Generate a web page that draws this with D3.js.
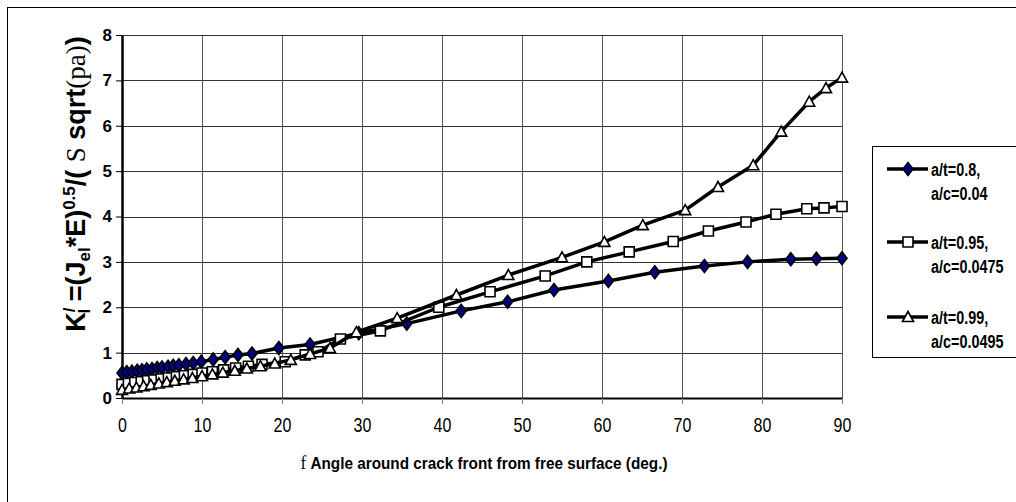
<!DOCTYPE html>
<html>
<head>
<meta charset="utf-8">
<script src="https://cdn.jsdelivr.net/npm/d3@7"></script>
<style>
  html, body { margin: 0; padding: 0; background: #fff; }
  svg { display: block; }
  text { font-family: "Liberation Sans", Arial, sans-serif; }
</style>
</head>
<body>
<svg id="chart" width="1016" height="502"></svg>
<script>
// a/t=0.8, a/c=0.04 (diamonds)
var angle1 = [0, 0.6, 1.25, 1.9, 2.5, 3.1, 3.75, 4.4, 5, 5.75, 6.4, 7.1, 8, 8.9, 9.9, 11.4, 12.9, 14.5, 16.25, 19.6, 23.5, 29.6, 35.6, 42.4, 48.2, 54, 60.8, 66.6, 72.8, 78.2, 83.6, 86.8, 90];
var k1 = [0.55, 0.57, 0.58, 0.6, 0.61, 0.63, 0.64, 0.66, 0.67, 0.69, 0.71, 0.72, 0.75, 0.77, 0.8, 0.85, 0.9, 0.95, 0.98, 1.1, 1.18, 1.43, 1.64, 1.92, 2.12, 2.38, 2.58, 2.77, 2.91, 3.0, 3.06, 3.07, 3.08];

// a/t=0.95, a/c=0.0475 (squares)
var angle2 = [0, 0.8, 1.6, 2.4, 3.2, 4, 4.9, 5.8, 6.8, 7.8, 8.9, 10, 11.3, 12.7, 14.2, 15.8, 17.5, 20.4, 22.9, 24.5, 27.3, 32.3, 39.6, 46, 52.9, 58.1, 63.4, 68.9, 73.3, 78, 81.75, 85.6, 87.75, 90];
var k2 = [0.3, 0.32, 0.34, 0.36, 0.38, 0.4, 0.42, 0.44, 0.47, 0.49, 0.52, 0.55, 0.58, 0.62, 0.66, 0.7, 0.74, 0.8, 0.95, 1.02, 1.3, 1.48, 2.0, 2.34, 2.69, 3.0, 3.22, 3.45, 3.68, 3.88, 4.05, 4.17, 4.19, 4.22];

// a/t=0.99, a/c=0.0495 (triangles)
var angle3 = [0, 0.9, 1.8, 2.7, 3.6, 4.6, 5.6, 6.6, 7.7, 8.8, 10, 11.3, 12.6, 14.1, 15.6, 17.3, 19.1, 21.1, 23.5, 26, 29.3, 34.4, 41.8, 48.3, 55, 60.3, 65.1, 70.4, 74.5, 78.9, 82.4, 85.9, 88, 90];
var k3 = [0.18, 0.21, 0.23, 0.26, 0.29, 0.32, 0.35, 0.38, 0.41, 0.44, 0.48, 0.52, 0.56, 0.6, 0.65, 0.7, 0.76, 0.84, 0.97, 1.1, 1.45, 1.76, 2.27, 2.71, 3.1, 3.44, 3.81, 4.14, 4.65, 5.13, 5.87, 6.53, 6.83, 7.06];

var xTicks = [0, 10, 20, 30, 40, 50, 60, 70, 80, 90];
var yTicks = [0, 1, 2, 3, 4, 5, 6, 7, 8];
var legendLabels = [["a/t=0.8,", "a/c=0.04"], ["a/t=0.95,", "a/c=0.0475"], ["a/t=0.99,", "a/c=0.0495"]];

(function () {
  var svg = d3.select("#chart");
  var plotL = 122, plotR = 842, plotT = 35, plotB = 398;

  var x = d3.scaleLinear().domain([0, 90]).range([plotL, plotR]);
  var y = d3.scaleLinear().domain([0, 8]).range([plotB, plotT]);

  // squeeze text horizontally to look like a narrow face
  function squeeze(sel, k) {
    sel.each(function () {
      var w = this.getComputedTextLength();
      d3.select(this).attr("textLength", w * k).attr("lengthAdjust", "spacingAndGlyphs");
    });
  }

  // outer frame
  svg.append("rect")
    .attr("x", 7.5).attr("y", 7.5)
    .attr("width", 1030).attr("height", 520)
    .attr("fill", "none").attr("stroke", "#000").attr("stroke-width", 1);

  // grid
  svg.append("g").selectAll("line")
    .data(yTicks.slice(1))
    .join("line")
    .attr("x1", plotL).attr("x2", plotR)
    .attr("y1", function (d) { return Math.round(y(d)) + 0.5; })
    .attr("y2", function (d) { return Math.round(y(d)) + 0.5; })
    .attr("stroke", "#333").attr("stroke-width", 1);

  svg.append("g").selectAll("line")
    .data(xTicks.slice(1))
    .join("line")
    .attr("x1", function (d) { return Math.round(x(d)) + 0.5; })
    .attr("x2", function (d) { return Math.round(x(d)) + 0.5; })
    .attr("y1", plotT).attr("y2", plotB)
    .attr("stroke", "#555").attr("stroke-width", 1);

  // axes
  var xAxis = d3.axisBottom(x).tickValues(xTicks).tickSize(6).tickSizeOuter(0).tickPadding(14);
  var gx = svg.append("g").attr("transform", "translate(0," + plotB + ")").call(xAxis);
  gx.select(".domain").attr("stroke", "#000").attr("stroke-width", 2);
  gx.selectAll(".tick line").attr("stroke", "#777");
  gx.selectAll(".tick text")
    .attr("font-family", "'Liberation Sans', Arial, sans-serif")
    .attr("font-size", 20).attr("fill", "#000")
    .call(squeeze, 0.8);

  var yAxis = d3.axisLeft(y).tickValues(yTicks).tickSize(6).tickSizeOuter(0).tickPadding(4);
  var gy = svg.append("g").attr("transform", "translate(" + plotL + ",0)").call(yAxis);
  gy.select(".domain").attr("stroke", "#000").attr("stroke-width", 2.5);
  gy.selectAll(".tick line").attr("stroke", "#000");
  gy.selectAll(".tick text")
    .attr("font-family", "'Liberation Sans', Arial, sans-serif")
    .attr("font-size", 17).attr("font-weight", "bold").attr("fill", "#000");

  // top border of plot
  svg.append("line").attr("x1", plotL).attr("x2", plotR).attr("y1", plotT + 0.5).attr("y2", plotT + 0.5)
    .attr("stroke", "#333");

  // markers
  var diamondPath = "M0,-6.5L5,0L0,6.5L-5,0Z";
  var squarePath = "M-5,-5H5V5H-5Z";
  var trianglePath = "M0,-5.5L5.5,4.5H-5.5Z";

  var series = [
    { xs: angle1, ys: k1, shape: diamondPath, fill: "#000080" },
    { xs: angle2, ys: k2, shape: squarePath, fill: "#fff" },
    { xs: angle3, ys: k3, shape: trianglePath, fill: "#fff" }
  ];

  var line = d3.line()
    .x(function (d) { return x(d[0]); })
    .y(function (d) { return y(d[1]); });

  series.forEach(function (s) {
    var pts = s.xs.map(function (v, i) { return [v, s.ys[i]]; });
    var g = svg.append("g");
    g.append("path")
      .datum(pts)
      .attr("d", line)
      .attr("fill", "none")
      .attr("stroke", "#000")
      .attr("stroke-width", 3.5)
      .attr("stroke-linejoin", "round");
    g.selectAll("path.m")
      .data(pts)
      .join("path")
      .attr("class", "m")
      .attr("d", s.shape)
      .attr("transform", function (d) { return "translate(" + x(d[0]) + "," + y(d[1]) + ")"; })
      .attr("fill", s.fill)
      .attr("stroke", "#000")
      .attr("stroke-width", 1.6);
  });

  // y title
  var yt = svg.append("text")
    .attr("transform", "translate(85,184) rotate(-90)")
    .attr("text-anchor", "middle")
    .attr("font-size", 27)
    .attr("font-weight", "bold")
    .attr("fill", "#000");
  yt.append("tspan").text("K");
  yt.append("tspan").attr("font-size", 17).attr("dy", -10).text("/");
  yt.append("tspan").attr("font-size", 17).attr("dy", 15).attr("dx", -6).text("I");
  yt.append("tspan").attr("dy", -5).text(" =(J");
  yt.append("tspan").attr("font-size", 17).attr("dy", 5).text("el");
  yt.append("tspan").attr("dy", -5).text("*E)");
  yt.append("tspan").attr("font-size", 17).attr("dy", -10).text("0.5");
  yt.append("tspan").attr("dy", 10).text("/( ");
  yt.append("tspan").attr("font-family", "'Liberation Serif', 'Times New Roman', serif").attr("font-weight", "normal").text("S");
  yt.append("tspan").text(" sqrt");
  yt.append("tspan").attr("font-family", "'Liberation Serif', 'Times New Roman', serif").attr("font-weight", "normal").text("(pa)");
  yt.append("tspan").text(")");

  // x title
  var xt = svg.append("text")
    .attr("x", 484).attr("y", 469)
    .attr("text-anchor", "middle")
    .attr("font-size", 17)
    .attr("fill", "#000");
  xt.append("tspan").attr("font-family", "'Liberation Serif', 'Times New Roman', serif").attr("font-size", 19).text("f ");
  xt.append("tspan").attr("font-weight", "bold").text("Angle around crack front from free surface (deg.)");
  xt.call(squeeze, 0.9);

  // legend
  var lg = svg.append("g");
  lg.append("rect")
    .attr("x", 872.5).attr("y", 146.5)
    .attr("width", 200).attr("height", 211)
    .attr("fill", "#fff").attr("stroke", "#000").attr("stroke-width", 1);

  var legendY = [169, 242, 317];
  series.forEach(function (s, i) {
    var ly = legendY[i];
    lg.append("line")
      .attr("x1", 887).attr("x2", 928).attr("y1", ly).attr("y2", ly)
      .attr("stroke", "#000").attr("stroke-width", 3.5);
    lg.append("path")
      .attr("d", s.shape)
      .attr("transform", "translate(908," + ly + ")")
      .attr("fill", s.fill).attr("stroke", "#000").attr("stroke-width", 1.6);
    legendLabels[i].forEach(function (t, j) {
      lg.append("text")
        .attr("x", 931).attr("y", ly + 7 + j * 24)
        .attr("font-size", 18).attr("font-weight", "bold")
        .attr("fill", "#000")
        .text(t)
        .call(squeeze, 0.8);
    });
  });
})();
</script>
</body>
</html>
